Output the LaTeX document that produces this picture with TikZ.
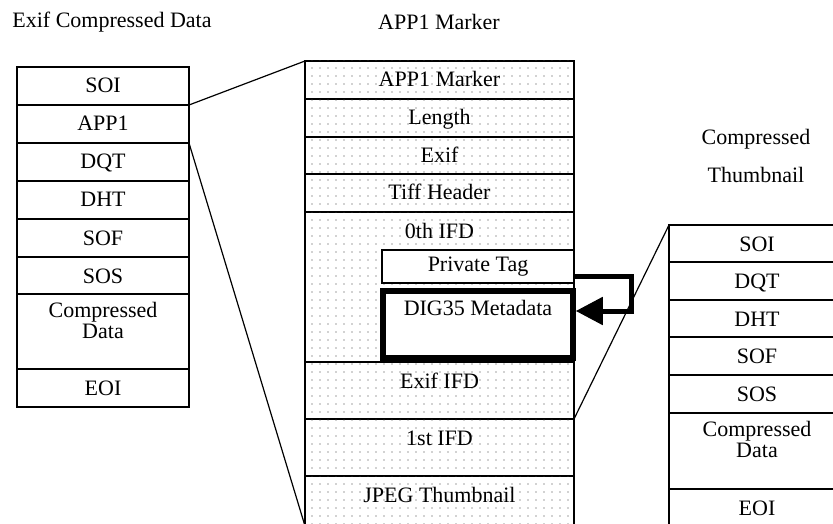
\documentclass[tikz,border=0pt]{standalone}
\usepackage{fontspec}
\setmainfont{Liberation Serif}
\usetikzlibrary{positioning,arrows.meta,patterns.meta}
\tikzset{
  cell/.style={draw, line width=1.2pt, fill=white, inner sep=0pt, outer sep=0pt,
    align=center, minimum width=172pt, text height=26pt, text depth=12pt,
    font=\fontsize{22}{18}\selectfont},
  dotcell/.style={cell, minimum width=269pt,
    postaction={pattern={Dots[distance=8pt,radius=0.7pt]}, pattern color=black!75}},
  thumbcell/.style={cell, minimum width=176pt},
  title/.style={inner sep=0pt, font=\fontsize{22}{18}\selectfont},
  bigarrow/.style={line width=5pt, -{Triangle[length=27pt,width=27pt]}},
  link/.style={line width=1.2pt}
}
\begin{document}
\begin{tikzpicture}[x=1pt,y=-1pt]
\useasboundingbox (0,0) rectangle (833,524);
\node[title] (exiftitle) at (112,22) {Exif Compressed Data};
\node[title] (app1title) at (439,22) {APP1 Marker};
\node[title] (thumbtitle) at (756,139) {Compressed};
\node[title] (thumbtitleb) at (756,175) {Thumbnail};
\node[cell, anchor=north west] (soi) at (17,67) {SOI};
\node[cell, below=0pt of soi] (app1) {APP1};
\node[cell, below=0pt of app1] (dqt) {DQT};
\node[cell, below=0pt of dqt] (dht) {DHT};
\node[cell, below=0pt of dht] (sof) {SOF};
\node[cell, below=0pt of sof, text depth=11pt] (sos) {SOS};
\node[cell, below=0pt of sos, text height=44pt, text depth=31pt] (data) {Compressed\\Data};
\node[cell, below=0pt of data] (eoi) {EOI};
\node[dotcell, anchor=north west] (marker) at (305,61) {APP1 Marker};
\node[dotcell, below=0pt of marker] (length) {Length};
\node[dotcell, below=0pt of length, text depth=11pt] (exif) {Exif};
\node[dotcell, below=0pt of exif] (tiff) {Tiff Header};
\node[dotcell, below=0pt of tiff, text depth=124pt] (ifd0) {0th IFD};
\node[dotcell, below=0pt of ifd0, text depth=31pt] (exififd) {Exif IFD};
\node[dotcell, below=0pt of exififd, text depth=31pt] (ifd1) {1st IFD};
\node[dotcell, below=0pt of ifd1, text depth=24pt] (jpeg) {JPEG Thumbnail};
\node[cell, anchor=north east, minimum width=192pt, minimum height=33pt,
  text height=, text depth=] (ptag) at (574,250) {Private Tag};
\node[cell, anchor=north west, line width=5.5pt, minimum width=190pt,
  text height=24pt, text depth=43pt] (dig) at (383,291) {DIG35 Metadata};
\node[thumbcell, anchor=north west, text depth=11pt] (tsoi) at (669,225) {SOI};
\node[thumbcell, below=0pt of tsoi] (tdqt) {DQT};
\node[thumbcell, below=0pt of tdqt, text depth=11pt] (tdht) {DHT};
\node[thumbcell, below=0pt of tdht] (tsof) {SOF};
\node[thumbcell, below=0pt of tsof] (tsos) {SOS};
\node[thumbcell, below=0pt of tsos, text height=44pt, text depth=32pt] (tdata) {Compressed\\Data};
\node[thumbcell, below=0pt of tdata] (teoi) {EOI};
\draw[bigarrow] ([yshift=-9.5pt]ptag.east) -- ++(57,0) |- ([xshift=2.75pt,yshift=13.5pt]dig.east);
\draw[link] (app1.north east) -- (marker.north west);
\draw[link] (dqt.north east) -- (jpeg.south west);
\draw[link] (exififd.south east) -- (tsoi.north west);
\end{tikzpicture}
\end{document}
